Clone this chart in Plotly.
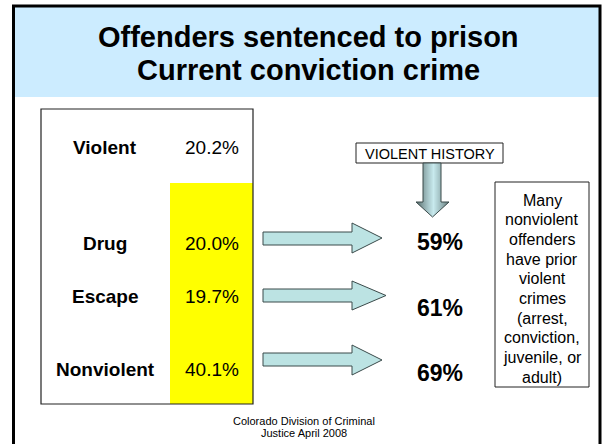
import plotly.graph_objects as go

# ---- data ----
title_lines = ["Offenders sentenced to prison", "Current conviction crime"]
categories = ["Violent", "Drug", "Escape", "Nonviolent"]
shares = ["20.2%", "20.0%", "19.7%", "40.1%"]
history_cats = ["Drug", "Escape", "Nonviolent"]
violent_history = ["59%", "61%", "69%"]
history_label = "VIOLENT HISTORY"
note_lines = ["Many", "nonviolent", "offenders", "have prior", "violent", "crimes", "(arrest,",
              "conviction,", "juvenile, or", "adult)"]
source_lines = ["Colorado Division of Criminal", "Justice April 2008"]

FONT = "Arial, Liberation Sans, sans-serif"
W, H = 602, 444

fig = go.Figure()
shapes = []
ann = []

# outer frame & title band
shapes.append(dict(type="rect", x0=14, x1=599, y0=7, y1=97, fillcolor="#CCECFF", line=dict(width=0), layer="below"))
shapes.append(dict(type="rect", x0=13.5, x1=600, y0=6, y1=470, line=dict(color="black", width=3)))
for i, t in enumerate(title_lines):
    ann.append(dict(x=308, y=37 + 33 * i, text=f"<b>{t}</b>", showarrow=False,
                    font=dict(family=FONT, size=29, color="black"), xanchor="center", yanchor="middle"))

# table box
shapes.append(dict(type="rect", x0=170, x1=253, y0=183, y1=404, fillcolor="#FFFF00", line=dict(width=0)))
shapes.append(dict(type="rect", x0=41, x1=253, y0=109, y1=404, line=dict(color="#222222", width=1.2)))
row_y = [147, 243, 296, 369]
for cat, val, y in zip(categories, shares, row_y):
    ann.append(dict(x=105, y=y, text=f"<b>{cat}</b>", showarrow=False,
                    font=dict(family=FONT, size=19, color="black"), xanchor="center", yanchor="middle"))
    ann.append(dict(x=212, y=y, text=val, showarrow=False,
                    font=dict(family=FONT, size=19, color="black"), xanchor="center", yanchor="middle"))

# right arrows
arrow_rows = [(232, 245, 223, 253, 382), (289, 302, 281, 310, 386), (353, 366, 345, 375, 382)]
for (s0, s1, h0, h1, tip) in arrow_rows:
    xs0, xb = 263, 352
    ym = (h0 + h1) / 2
    path = (f"M {xs0},{s0} L {xb},{s0} L {xb},{h0} L {tip},{ym} L {xb},{h1} "
            f"L {xb},{s1} L {xs0},{s1} Z")
    shapes.append(dict(type="path", path=path, fillcolor="#BCE3E3", line=dict(color="#3a4a4a", width=1)))

for val, y in zip(violent_history, [242, 308, 373]):
    ann.append(dict(x=440, y=y, text=f"<b>{val}</b>", showarrow=False,
                    font=dict(family=FONT, size=23, color="black"), xanchor="center", yanchor="middle"))

# violent history label box
shapes.append(dict(type="rect", x0=356, x1=503, y0=143, y1=163, fillcolor="white", line=dict(color="#222222", width=1)))
ann.append(dict(x=429.5, y=153.5, text=history_label, showarrow=False,
                font=dict(family=FONT, size=14.5, color="black"), xanchor="center", yanchor="middle"))

# down arrow with horizontal gradient (dark edges, light centre)
sx0, sx1, hx0, hx1 = 423, 441, 416, 449
top, base, tipy = 163, 202, 217
cx = (hx0 + hx1) / 2
half = (hx1 - hx0) / 2
def bottom(x):
    return tipy - abs(x - cx) / half * (tipy - base)
def grad(x):
    t = 1 - abs(x - (cx + 1)) / (half + 0.5)
    t = max(0, min(1, t)) ** 0.8
    c0 = (80, 100, 100)
    c1 = (200, 234, 238)
    return "rgb(%d,%d,%d)" % tuple(int(a + (b - a) * t) for a, b in zip(c0, c1))
x = hx0
while x < hx1:
    xa, xb2 = x, x + 1
    ytop = top if (xa >= sx0 and xb2 <= sx1) else base
    path = f"M {xa},{ytop} L {xb2},{ytop} L {xb2},{bottom(xb2)} L {xa},{bottom(xa)} Z"
    shapes.append(dict(type="path", path=path, fillcolor=grad(x + 0.5), line=dict(width=0)))
    x += 1
dpath = (f"M {sx0},{top} L {sx1},{top} L {sx1},{base} L {hx1},{base} L {cx},{tipy} "
         f"L {hx0},{base} L {sx0},{base} Z")
shapes.append(dict(type="path", path=dpath, line=dict(color="#3a4a4a", width=1)))

# note box
shapes.append(dict(type="rect", x0=495, x1=589, y0=182, y1=387, line=dict(color="#222222", width=1)))
for i, t in enumerate(note_lines):
    ann.append(dict(x=542, y=200 + 19.7 * i, text=t, showarrow=False,
                    font=dict(family=FONT, size=16, color="black"), xanchor="center", yanchor="middle"))

# source
for i, t in enumerate(source_lines):
    ann.append(dict(x=304, y=421 + 12 * i, text=t, showarrow=False,
                    font=dict(family=FONT, size=11, color="black"), xanchor="center", yanchor="middle"))

fig.update_layout(
    width=W, height=H, margin=dict(l=0, r=0, t=0, b=0),
    paper_bgcolor="white", plot_bgcolor="white",
    xaxis=dict(range=[0, W], visible=False, fixedrange=True),
    yaxis=dict(range=[H, 0], visible=False, fixedrange=True),
    shapes=shapes, annotations=ann, showlegend=False,
)
fig.write_html("out.html", config=dict(displayModeBar=False),
               post_script="document.body.style.margin='0';document.body.style.overflow='hidden';")
